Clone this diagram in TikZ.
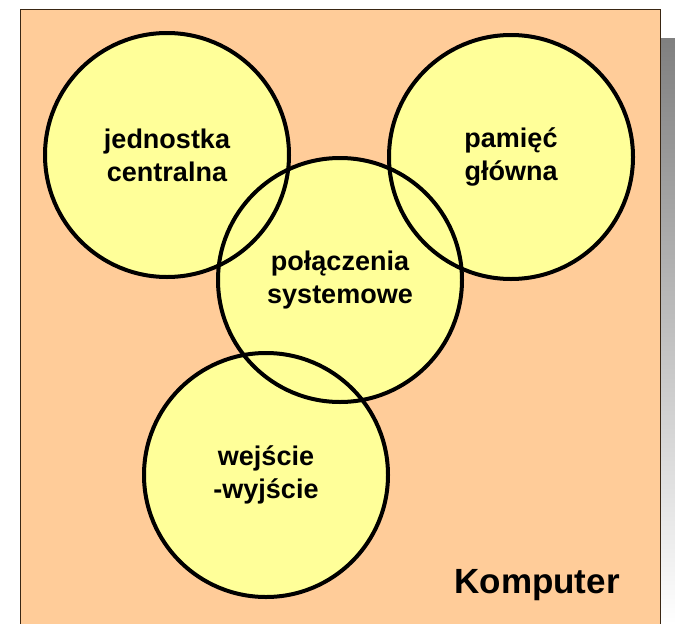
\documentclass[tikz,border=0pt]{standalone}
\usepackage{fontspec}
\setmainfont{Liberation Sans}
\definecolor{peach}{HTML}{FFCC99}
\definecolor{lemon}{HTML}{FFFF99}
\definecolor{shade}{HTML}{CCCCCC}
\tikzset{
  part/.style={circle,fill=lemon,minimum size=246pt,inner sep=0pt,align=center,font=\fontsize{27}{33}\selectfont\bfseries},
  rim/.style={line width=4pt}
}
\begin{document}
\begin{tikzpicture}[x=1pt,y=-1pt]
\useasboundingbox (0,0) rectangle (675,624);
\fill[shade] (660,38) rectangle (675,624);
\draw[fill=peach,draw=black!70!brown,line width=0.8pt] (20,9) rectangle (660,630);
\node[part] (cpu) at (167,155) {jednostka\\centralna};
\node[part] (mem) at (511,157) {pamięć\\główna};
\node[part] (bus) at (340,280) {};
\node[part] (io) at (266,475) {wejście\\-wyjście};
\node[font=\fontsize{27}{33}\selectfont\bfseries,align=center] (bustext) at (bus) {połączenia\\systemowe};
\draw[rim] (cpu.center) circle[radius=122];
\draw[rim] (mem.center) circle[radius=122];
\draw[rim] (bus.center) circle[radius=122];
\draw[rim] (io.center) circle[radius=122];
\node[font=\fontsize{35}{40}\selectfont\bfseries] (pc) at (537,585) {Komputer};
\end{tikzpicture}
\end{document}
